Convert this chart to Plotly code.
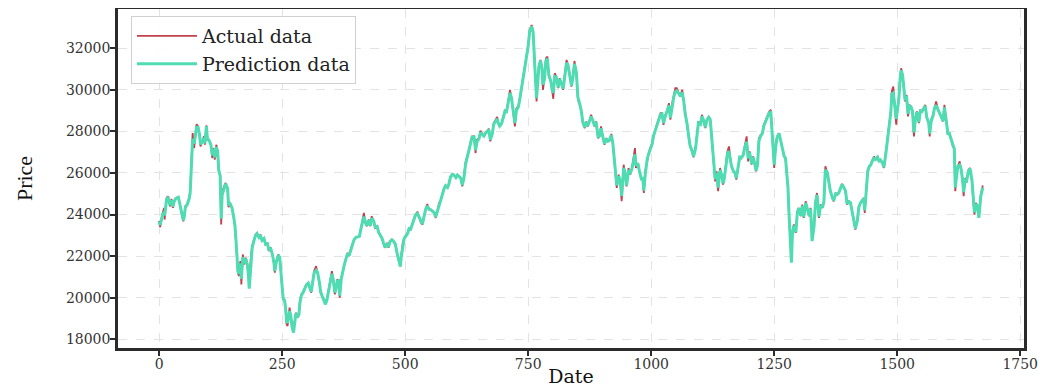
import plotly.graph_objects as go

# Day index (x)
date_idx = [
    0, 2, 7, 10, 11, 15, 18, 22, 25, 28,
    30, 34, 39, 42, 46, 49, 51, 53, 57, 61,
    63, 65, 67, 68, 71, 73, 76, 79, 82, 84,
    88, 91, 93, 96, 98, 101, 105, 108, 110, 113,
    116, 119, 121, 124, 126, 128, 132, 135, 139, 141,
    144, 148, 151, 154, 156, 158, 160, 162, 165, 167,
    170, 173, 176, 179, 181, 183, 186, 189, 192, 196,
    199, 203, 206, 209, 213, 216, 220, 223, 226, 230,
    233, 235, 238, 242, 245, 247, 250, 252, 255, 257,
    259, 261, 263, 265, 268, 270, 273, 276, 278, 281,
    284, 286, 289, 292, 296, 299, 303, 306, 309, 312,
    315, 319, 322, 326, 328, 331, 334, 338, 341, 345,
    348, 351, 354, 357, 359, 362, 365, 367, 370, 373,
    376, 380, 383, 386, 389, 393, 396, 400, 403, 407,
    410, 413, 416, 419, 422, 426, 429, 432, 436, 439,
    443, 446, 449, 453, 456, 459, 463, 466, 469, 473,
    476, 480, 483, 486, 490, 492, 495, 498, 501, 505,
    508, 511, 515, 518, 521, 525, 528, 532, 535, 538,
    542, 545, 548, 552, 555, 559, 562, 565, 569, 572,
    575, 579, 582, 586, 589, 592, 596, 599, 603, 606,
    609, 613, 616, 619, 623, 626, 630, 633, 636, 640,
    643, 646, 650, 653, 657, 660, 663, 667, 670, 673,
    677, 680, 684, 687, 689, 692, 696, 699, 703, 706,
    709, 713, 716, 719, 723, 726, 730, 733, 736, 740,
    743, 746, 750, 753, 757, 760, 762, 764, 767, 769,
    772, 775, 778, 780, 783, 786, 789, 792, 796, 799,
    801, 804, 807, 811, 814, 817, 821, 824, 828, 831,
    834, 838, 841, 844, 848, 851, 855, 858, 861, 865,
    868, 871, 875, 878, 882, 885, 888, 892, 895, 898,
    902, 905, 909, 912, 915, 919, 922, 924, 927, 930,
    934, 937, 940, 944, 947, 950, 954, 957, 961, 964,
    967, 969, 973, 976, 980, 983, 985, 988, 992, 995,
    998, 1002, 1005, 1009, 1012, 1015, 1019, 1022, 1025, 1029,
    1032, 1036, 1039, 1042, 1046, 1049, 1052, 1056, 1059, 1063,
    1066, 1069, 1073, 1076, 1079, 1083, 1086, 1090, 1093, 1096,
    1100, 1103, 1106, 1110, 1113, 1117, 1120, 1123, 1127, 1130,
    1133, 1136, 1140, 1143, 1146, 1148, 1152, 1155, 1158, 1160,
    1163, 1167, 1170, 1173, 1177, 1180, 1183, 1187, 1190, 1194,
    1197, 1200, 1204, 1207, 1210, 1213, 1216, 1219, 1223, 1226,
    1229, 1233, 1236, 1240, 1243, 1245, 1248, 1250, 1253, 1256,
    1260, 1263, 1267, 1270, 1273, 1276, 1278, 1280, 1282, 1285,
    1287, 1290, 1294, 1297, 1300, 1304, 1307, 1310, 1314, 1317,
    1321, 1324, 1327, 1331, 1334, 1337, 1341, 1344, 1348, 1351,
    1354, 1358, 1361, 1364, 1368, 1371, 1375, 1378, 1381, 1385,
    1388, 1391, 1395, 1398, 1402, 1405, 1408, 1412, 1415, 1419,
    1422, 1425, 1429, 1432, 1434, 1437, 1440, 1443, 1446, 1450,
    1453, 1456, 1460, 1463, 1466, 1470, 1473, 1477, 1480, 1483,
    1487, 1489, 1492, 1495, 1498, 1500, 1503, 1506, 1508, 1511,
    1514, 1516, 1519, 1522, 1525, 1528, 1531, 1534, 1537, 1540,
    1544, 1547, 1550, 1554, 1557, 1560, 1564, 1566, 1569, 1573,
    1576, 1579, 1583, 1586, 1589, 1593, 1596, 1600, 1603, 1606,
    1610, 1613, 1616, 1618, 1621, 1623, 1627, 1630, 1633, 1635,
    1638, 1641, 1645, 1648, 1652, 1654, 1657, 1660, 1663, 1666,
    1670, 1674,
]

actual_data = [
    23700, 23400, 24080, 24320, 23760, 24800, 24880, 24400, 24750, 24320,
    24640, 24800, 24850, 24480, 23920, 23680, 23920, 24400, 24500, 24800,
    25120, 26240, 27520, 27920, 27200, 27840, 28350, 28240, 27840, 27280,
    27520, 27760, 27360, 28290, 27600, 27600, 27360, 26720, 27200, 26640,
    27360, 27040, 26080, 25920, 23520, 25120, 25360, 25520, 25280, 24350,
    24560, 24320, 23920, 23440, 22720, 21760, 21200, 21040, 21760, 20640,
    22080, 21600, 21920, 21600, 21120, 20750, 21840, 22480, 22720, 23040,
    23120, 22880, 23040, 22720, 22880, 22560, 22640, 22240, 22430, 22080,
    21680, 21200, 21760, 22080, 21920, 21440, 20400, 19920, 19840, 19440,
    18720, 18640, 19120, 19520, 19040, 18560, 18550, 19040, 19280, 19040,
    19200, 19840, 20160, 20240, 20480, 20640, 20720, 20480, 20240, 20800,
    21280, 21520, 21200, 20640, 20240, 20080, 19920, 19850, 19920, 20480,
    20800, 21280, 20800, 20160, 20400, 20880, 20800, 20000, 20960, 21280,
    21600, 21920, 22160, 22000, 22320, 22560, 22800, 22910, 22910, 22960,
    23360, 23680, 24080, 23600, 23440, 23760, 23440, 23920, 23680, 23360,
    23440, 23120, 23000, 22840, 22600, 22400, 22640, 22400, 22720, 22800,
    22720, 22560, 22160, 21840, 21520, 22080, 22640, 22880, 22960, 23120,
    23360, 23280, 23600, 23840, 24000, 24130, 23840, 23600, 23520, 23920,
    24320, 24510, 24240, 24240, 24160, 24080, 23840, 24160, 24560, 24670,
    24960, 25280, 25410, 25280, 25520, 25840, 25950, 25920, 25760, 25920,
    25840, 25760, 25360, 25760, 26560, 26800, 27120, 27520, 27760, 27760,
    26960, 27600, 27680, 28030, 27840, 27760, 27920, 28030, 28130, 27520,
    27920, 28400, 28560, 28700, 28400, 28240, 28400, 28640, 29040, 28960,
    29440, 30000, 29600, 29120, 28240, 29120, 29200, 29600, 30080, 30640,
    30960, 31440, 32160, 32880, 33120, 32800, 32000, 30800, 29440, 30560,
    31200, 31440, 31040, 30000, 30560, 31520, 31600, 30640, 30400, 29920,
    29570, 30800, 30640, 30080, 30560, 30320, 30000, 30640, 31440, 31200,
    30640, 30160, 30640, 31390, 30800, 29520, 29280, 28960, 28400, 28160,
    28480, 28240, 28560, 28800, 28480, 28240, 28480, 27680, 27760, 28240,
    27680, 27360, 27680, 27520, 27560, 27880, 27400, 26880, 26240, 25280,
    25920, 25600, 24640, 26400, 25920, 25360, 26240, 25920, 26240, 26640,
    27200, 26240, 26480, 26080, 25680, 25760, 25040, 26080, 26720, 26960,
    27200, 27440, 27840, 28160, 28400, 28640, 28880, 28880, 28320, 28800,
    28960, 29360, 28560, 29280, 29760, 30080, 30080, 29840, 29680, 30000,
    29440, 28800, 28320, 27760, 27280, 27040, 26750, 27200, 27840, 28480,
    28320, 28800, 28560, 28160, 28560, 28720, 28560, 27520, 26240, 25600,
    26080, 25120, 26240, 25920, 25440, 25680, 26400, 27040, 27280, 26800,
    26320, 26080, 26000, 25680, 26480, 26800, 26720, 26880, 27280, 27760,
    26560, 27040, 26400, 26800, 26480, 26080, 26400, 27680, 27840, 27920,
    28320, 28560, 28720, 28960, 29040, 28080, 27040, 26240, 27360, 27760,
    27920, 27600, 27200, 26800, 26720, 25760, 25280, 24000, 23040, 21800,
    23200, 23520, 23120, 24160, 24320, 23920, 24480, 23840, 24640, 24320,
    23920, 24320, 23000, 23520, 24640, 25040, 23840, 24480, 24320, 24640,
    26320, 26000, 25520, 25120, 24800, 24640, 25040, 24960, 25040, 25360,
    25480, 25320, 25120, 24480, 24640, 24560, 24160, 23600, 23280, 23760,
    24400, 24560, 24720, 24800, 24080, 25120, 26160, 26320, 26400, 26640,
    26800, 26640, 26800, 26560, 26640, 26480, 26240, 27040, 27600, 28160,
    28960, 29920, 30160, 29200, 28320, 29040, 29520, 30640, 31040, 30720,
    30080, 29440, 29760, 28720, 29280, 29200, 28960, 27760, 28640, 28960,
    28400, 29040, 28960, 29120, 29280, 28640, 28400, 27760, 28560, 28800,
    29200, 29440, 29040, 28880, 28720, 28480, 29280, 28400, 27840, 27920,
    27600, 27280, 27200, 25120, 26160, 26320, 26560, 26160, 25600, 24880,
    25760, 25600, 26160, 26240, 25600, 24800, 24000, 24560, 24400, 24000,
    25000, 25400,
]

prediction_data = [
    23650, 23500, 24000, 24120, 23950, 24700, 24850, 24450, 24700, 24380,
    24600, 24780, 24830, 24520, 23980, 23720, 23880, 24330, 24480, 24760,
    25050, 26100, 27400, 27650, 27400, 27750, 28200, 28200, 27850, 27380,
    27500, 27700, 27420, 28250, 27650, 27580, 27380, 26850, 27150, 26750,
    27250, 27000, 26150, 25850, 23800, 24950, 25300, 25480, 25250, 24450,
    24520, 24330, 23950, 23480, 22800, 21850, 21300, 21150, 21650, 20900,
    21950, 21650, 21880, 21620, 21200, 20430, 21700, 22400, 22700, 23000,
    23080, 22900, 23000, 22760, 22850, 22580, 22600, 22280, 22400, 22100,
    21720, 21280, 21700, 22050, 21940, 21500, 20500, 19980, 19860, 19500,
    18850, 18800, 19100, 19350, 19060, 18600, 18320, 18950, 19250, 19080,
    19180, 19750, 20120, 20230, 20450, 20600, 20700, 20500, 20280, 20750,
    21200, 21320, 21220, 20700, 20300, 20100, 19950, 19680, 19900, 20420,
    20780, 21150, 20850, 20250, 20380, 20800, 20820, 20100, 20880, 21250,
    21560, 21900, 22120, 22020, 22280, 22540, 22780, 22900, 22920, 22950,
    23300, 23620, 23900, 23650, 23460, 23720, 23470, 23820, 23700, 23400,
    23420, 23150, 23020, 22860, 22630, 22430, 22600, 22430, 22700, 22780,
    22730, 22580, 22200, 21880, 21500, 21950, 22550, 22850, 22950, 23100,
    23320, 23300, 23560, 23800, 23980, 24050, 23880, 23630, 23540, 23880,
    24280, 24420, 24280, 24230, 24170, 24090, 23880, 24120, 24520, 24640,
    24920, 25240, 25380, 25300, 25480, 25800, 25930, 25900, 25780, 25900,
    25850, 25740, 25420, 25700, 26450, 26760, 27080, 27470, 27730, 27740,
    27100, 27500, 27650, 27950, 27860, 27780, 27900, 28000, 28080, 27600,
    27880, 28350, 28530, 28600, 28420, 28260, 28380, 28600, 28980, 28950,
    29380, 29850, 29620, 29150, 28400, 29000, 29180, 29560, 30040, 30600,
    30920, 31400, 32100, 32800, 33050, 32780, 32050, 30900, 29600, 30450,
    31150, 31400, 31050, 30250, 30500, 31400, 31500, 30700, 30420, 29980,
    29850, 30650, 30620, 30120, 30520, 30330, 30050, 30580, 31300, 31180,
    30680, 30200, 30600, 31250, 30820, 29650, 29300, 28980, 28450, 28200,
    28450, 28260, 28520, 28720, 28490, 28260, 28450, 27750, 27780, 28150,
    27720, 27400, 27650, 27540, 27580, 27820, 27450, 26950, 26300, 25400,
    25850, 25620, 24900, 26250, 25950, 25400, 26150, 25950, 26220, 26600,
    26900, 26350, 26450, 26100, 25720, 25740, 25150, 25950, 26680, 26930,
    27170, 27400, 27800, 28120, 28380, 28600, 28820, 28850, 28400, 28750,
    28930, 29250, 28650, 29200, 29680, 29900, 29950, 29820, 29700, 29880,
    29480, 28850, 28360, 27800, 27320, 27060, 26800, 27150, 27780, 28400,
    28340, 28720, 28570, 28200, 28520, 28680, 28570, 27600, 26350, 25700,
    26000, 25300, 26150, 25940, 25500, 25660, 26350, 26950, 27050, 26820,
    26350, 26100, 26010, 25750, 26420, 26760, 26730, 26860, 27220, 27500,
    26700, 26980, 26450, 26760, 26500, 26120, 26350, 27550, 27800, 27900,
    28280, 28520, 28700, 28900, 28950, 28200, 27150, 26400, 27250, 27720,
    27900, 27620, 27230, 26830, 26700, 25850, 25300, 24100, 23150, 21680,
    23050, 23480, 23150, 24080, 24300, 23950, 24420, 23880, 24560, 24340,
    23950, 24280, 22720, 23450, 24580, 24950, 23900, 24430, 24330, 24600,
    26150, 26020, 25550, 25150, 24830, 24670, 25000, 24970, 25030, 25320,
    25450, 25330, 25140, 24530, 24620, 24570, 24200, 23650, 23320, 23700,
    24350, 24540, 24700, 24780, 24200, 25000, 26050, 26300, 26380, 26600,
    26700, 26650, 26760, 26580, 26620, 26490, 26280, 26950, 27550, 28100,
    28900, 29800, 29850, 29250, 28600, 28950, 29480, 30550, 30950, 30700,
    30100, 29500, 29700, 28850, 29220, 29180, 28980, 27950, 28560, 28930,
    28450, 28980, 28950, 29080, 29220, 28680, 28420, 27900, 28480, 28760,
    29150, 29250, 29060, 28900, 28730, 28500, 29150, 28450, 27900, 27900,
    27620, 27300, 27150, 25300, 26050, 26300, 26380, 26180, 25650, 25080,
    25650, 25620, 26100, 26220, 25650, 24900, 24100, 24500, 24420, 23840,
    24900, 25300,
]

x_ticks = [0, 250, 500, 750, 1000, 1250, 1500, 1750]
y_ticks = [18000, 20000, 22000, 24000, 26000, 28000, 30000, 32000]
y_tick_labels = [str(v) for v in y_ticks]

fig = go.Figure()
fig.add_trace(go.Scatter(
    x=date_idx, y=actual_data, mode="lines", name="Actual data",
    line=dict(color="#c0404c", width=1.8),
))
fig.add_trace(go.Scatter(
    x=date_idx, y=prediction_data, mode="lines", name="Prediction data",
    line=dict(color="#4fdcb2", width=3),
))

axis_common = dict(
    showline=True, linewidth=2.5, linecolor="#2b2b2b", mirror=True,
    ticks="outside", ticklen=5, tickwidth=1.5, tickcolor="#2b2b2b",
    showgrid=True, gridcolor="#e3e3e3", griddash="dash", gridwidth=1,
    zeroline=False, automargin=False,
    tickfont=dict(family="DejaVu Serif", size=14, color="#333333"),
)

# The page body adds an 8px offset, so the figure is sized/margined to compensate.
fig.update_layout(
    width=1039, height=383,
    margin=dict(l=110, r=23, t=1, b=43),
    paper_bgcolor="white", plot_bgcolor="white",
    showlegend=True,
    legend=dict(
        x=0.0143, y=0.979, xanchor="left", yanchor="top",
        bgcolor="rgba(255,255,255,0.9)", bordercolor="#d0d0d0", borderwidth=1,
        font=dict(family="DejaVu Serif", size=19, color="#222222"),
        tracegroupgap=0, itemwidth=60,
    ),
    xaxis=dict(
        range=[-83.7, 1757.7], tickvals=x_ticks, ticklabelstandoff=-4,
        title=dict(text="Date", standoff=0,
                   font=dict(family="DejaVu Serif", size=19, color="#111111")),
        **axis_common,
    ),
    yaxis=dict(
        range=[17580, 33890], tickvals=y_ticks, ticktext=y_tick_labels,
        ticklabelstandoff=-3,
        title=dict(text="Price", standoff=28,
                   font=dict(family="Liberation Serif", size=22, color="#111111")),
        **axis_common,
    ),
)

fig.write_html("out.html")
